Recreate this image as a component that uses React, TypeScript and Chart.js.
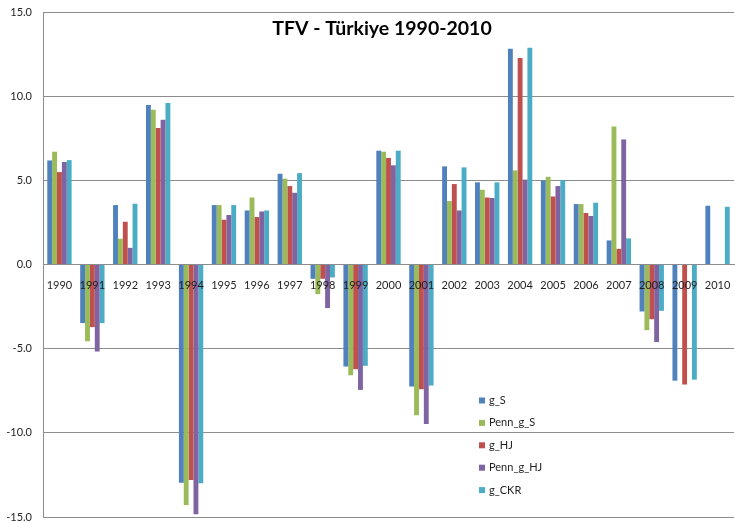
import React, { useEffect, useRef } from 'react';
import { Chart, registerables } from 'chart.js';

Chart.register(...registerables);

const titleText = 'TFV - Türkiye 1990-2010';
const years = ['1990', '1991', '1992', '1993', '1994', '1995', '1996', '1997', '1998', '1999', '2000', '2001', '2002', '2003', '2004', '2005', '2006', '2007', '2008', '2009', '2010'];
const seriesNames = ['g_S', 'Penn_g_S', 'g_HJ', 'Penn_g_HJ', 'g_CKR'];
const gS = [6.18, -3.48, 3.53, 9.48, -12.96, 3.53, 3.21, 5.39, -0.85, -6.06, 6.76, -7.25, 5.83, 4.88, 12.82, 4.99, 3.59, 1.43, -2.79, -6.9, 3.49];
const pennGS = [6.7, -4.56, 1.53, 9.2, -14.29, 3.53, 3.98, 5.1, -1.76, -6.58, 6.7, -8.96, 3.77, 4.44, 5.59, 5.21, 3.59, 8.2, -3.9, null, null];
const gHJ = [5.49, -3.72, 2.54, 8.11, -12.8, 2.66, 2.82, 4.66, -0.85, -6.22, 6.33, -7.41, 4.78, 3.98, 12.27, 4.04, 3.06, 0.93, -3.25, -7.13, null];
const pennGHJ = [6.09, -5.17, 0.99, 8.6, -14.84, 2.94, 3.15, 4.26, -2.59, -7.45, 5.89, -9.47, 3.21, 3.95, 5.04, 4.66, 2.88, 7.43, -4.61, null, null];
const gCKR = [6.2, -3.48, 3.61, 9.59, -13.0, 3.53, 3.21, 5.43, -0.77, -6.02, 6.76, -7.19, 5.77, 4.88, 12.88, 5.02, 3.67, 1.55, -2.75, -6.84, 3.43];
const yMin = -15;
const yMax = 15;
const yStep = 5;

const colors = ['#4F81BD', '#9BBB59', '#C0504D', '#8064A2', '#4BACC6'];
const FONT = 'Lato';

const titlePlugin = {
  id: 'xlTitle',
  afterDraw(chart: any) {
    const ctx = chart.ctx;
    ctx.save();
    ctx.font = `bold 19.5px ${FONT}`;
    ctx.fillStyle = '#000';
    ctx.textAlign = 'center';
    ctx.textBaseline = 'alphabetic';
    ctx.fillText(titleText, 382, 35);
    ctx.restore();
  },
};

const legendPlugin = {
  id: 'xlLegend',
  afterDraw(chart: any) {
    const ctx = chart.ctx;
    ctx.save();
    const x0 = 479;
    const y0 = 400.5;
    const step = 22.4;
    chart.data.datasets.forEach((ds: any, i: number) => {
      const y = y0 + i * step;
      ctx.fillStyle = ds.backgroundColor;
      ctx.fillRect(x0, y - 3, 6, 6);
      ctx.fillStyle = '#1f1f1f';
      ctx.font = `11px ${FONT}`;
      ctx.textBaseline = 'middle';
      ctx.textAlign = 'left';
      ctx.fillText(ds.label, x0 + 10, y);
    });
    ctx.restore();
  },
};

export default function App() {
  const ref = useRef<HTMLCanvasElement>(null);

  useEffect(() => {
    if (!ref.current) return;
    const allSeries = [gS, pennGS, gHJ, pennGHJ, gCKR];
    const chart = new Chart(ref.current, {
      type: 'bar',
      data: {
        labels: years,
        datasets: allSeries.map((d, i) => ({
          label: seriesNames[i],
          data: d,
          backgroundColor: colors[i],
          borderWidth: 0,
          categoryPercentage: 0.74,
          barPercentage: 1.0,
        })),
      },
      options: {
        animation: false,
        responsive: false,
        layout: { padding: { top: 12, bottom: 6, left: 0, right: 1 } },
        plugins: {
          legend: { display: false },
          tooltip: { enabled: false },
          title: { display: false },
        },
        scales: {
          x: {
            position: { y: 0 } as any,
            afterFit: (scale: any) => {
              scale.height = 0;
              scale.paddingLeft = 0;
              scale.paddingRight = 0;
            },
            grid: { display: false, drawTicks: false },
            border: { display: true, color: '#8c8c8c', width: 1 },
            ticks: {
              z: 1,
              color: '#1f1f1f',
              font: { family: FONT, size: 11 },
              padding: 14,
              maxRotation: 0,
              autoSkip: false,
            },
          },
          y: {
            min: yMin,
            max: yMax,
            afterFit: (scale: any) => {
              scale.width = 43;
              scale.paddingTop = 0;
              scale.paddingBottom = 0;
            },
            grid: { color: '#8c8c8c', drawTicks: false, lineWidth: 1 },
            border: { display: true, color: '#8c8c8c', width: 1 },
            ticks: {
              stepSize: yStep,
              color: '#1f1f1f',
              font: { family: FONT, size: 11 },
              padding: 11,
              callback: (v: any) => Number(v).toFixed(1),
            },
          },
        },
      },
      plugins: [titlePlugin, legendPlugin],
    });
    return () => chart.destroy();
  }, []);

  return (
    <div style={{ position: 'fixed', left: 0, top: 0, width: 735, height: 523, background: '#fff' }}>
      <canvas ref={ref} width={735} height={523} />
    </div>
  );
}
